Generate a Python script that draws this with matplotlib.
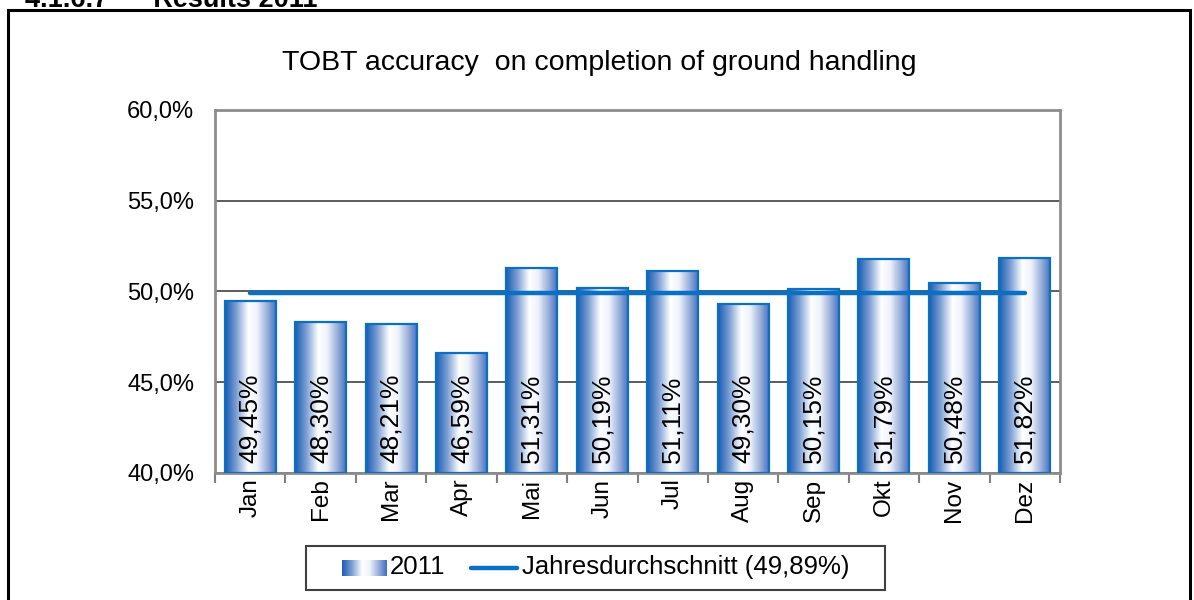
import numpy as np
import matplotlib
matplotlib.use("Agg")
import matplotlib.pyplot as plt
from matplotlib.patches import Rectangle
from matplotlib.lines import Line2D
from matplotlib.colors import LinearSegmentedColormap

plt.rcParams['font.family'] = ['Liberation Sans', 'DejaVu Sans']

months = ["Jan", "Feb", "Mar", "Apr", "Mai", "Jun", "Jul", "Aug", "Sep", "Okt", "Nov", "Dez"]
values = [49.45, 48.30, 48.21, 46.59, 51.31, 50.19, 51.11, 49.30, 50.15, 51.79, 50.48, 51.82]
average = 49.89
title = "TOBT accuracy  on completion of ground handling"
series_name = "2011"
avg_name = "Jahresdurchschnitt (49,89%)"
yticks = [40, 45, 50, 55, 60]

W, H = 1194, 600
fig = plt.figure(figsize=(W / 100, H / 100), dpi=100)


def fx(px):
    return px / W


def fy(py):
    return 1 - py / H


# outer frame and clipped section heading
fig.patches.append(Rectangle((fx(8), -0.1), fx(1190 - 8), 1.1 - 10 / H,
                             transform=fig.transFigure, fill=False, edgecolor='black',
                             linewidth=2.2))
fig.text(fx(25), fy(7), "4.1.6.7      Results 2011", fontsize=19.5, fontweight='bold',
         va='baseline', ha='left')

ax = fig.add_axes([fx(215), fy(473), fx(1060 - 215), (473 - 110) / H])

cmap = LinearSegmentedColormap.from_list(
    "bar", [(0.0, "#1a5cb4"), (0.22, "#7d9fd4"), (0.45, "#ffffff"),
            (0.62, "#eef2fa"), (0.85, "#8aa3d6"), (1.0, "#3e6dbd")])
grad = np.linspace(0, 1, 256).reshape(1, -1)

x = np.arange(len(months))
bw = 0.725
ax.set_xlim(-0.5, len(months) - 0.5)
ax.set_ylim(40, 60)

bars = ax.bar(x, np.array(values) - 40, bw, bottom=40, facecolor='none',
              edgecolor='#0a70c4', linewidth=1.6, zorder=3)
for b in bars:
    x0, y0 = b.get_x(), b.get_y()
    im = ax.imshow(grad, cmap=cmap, aspect='auto',
                   extent=(x0, x0 + b.get_width(), y0, y0 + b.get_height()),
                   zorder=2, interpolation='bicubic')
    im.set_clip_path(b)

for xi, v in zip(x, values):
    ax.text(xi, 40.55, f"{v:.2f}%".replace('.', ','), rotation=90, ha='center',
            va='bottom', fontsize=19, zorder=5)

ax.plot(x, [average] * len(x), color='#0a70c4', linewidth=3.2, zorder=4,
        solid_capstyle='round')

ax.set_yticks(yticks)
ax.set_yticklabels([f"{t:.1f}%".replace('.', ',') for t in yticks], fontsize=17)
ax.tick_params(axis='y', length=0, pad=15)
ax.yaxis.grid(True, color='#303030', linewidth=1.1, zorder=1)
ax.set_axisbelow(True)

ax.set_xticks(x)
ax.set_xticklabels(months, rotation=90, fontsize=17.5)
ax.set_xticks(np.arange(-0.5, len(months)), minor=True)
ax.tick_params(axis='x', which='major', length=0, pad=4)
ax.tick_params(axis='x', which='minor', length=7, width=1.5, color='#808080')

for s in ax.spines.values():
    s.set_color('#8c8c8c')
    s.set_linewidth(2.0)

fig.text(fx(599), fy(63), title, fontsize=20.5, ha='center', va='center')

# legend (hand-built to match the reference layout)
fig.patches.append(Rectangle((fx(306), fy(590)), fx(885 - 306), (590 - 546) / H,
                             transform=fig.transFigure, facecolor='white',
                             edgecolor='#404040', linewidth=1.5, zorder=1))
lax = fig.add_axes([fx(342), fy(576), fx(387 - 342), (576 - 560) / H], zorder=3)
lax.imshow(grad, cmap=cmap, aspect='auto', extent=(0, 1, 0, 1), interpolation='bicubic')
lax.set_axis_off()
fig.text(fx(390), fy(567), series_name, fontsize=18.5, ha='left', va='center')
fig.lines.append(Line2D([fx(471), fx(517)], [fy(567.5), fy(567.5)],
                        transform=fig.transFigure, color='#0a70c4', linewidth=3.2,
                        solid_capstyle='round'))
fig.text(fx(522), fy(567), avg_name, fontsize=18.5, ha='left', va='center')

fig.savefig("out.png", dpi=100)
